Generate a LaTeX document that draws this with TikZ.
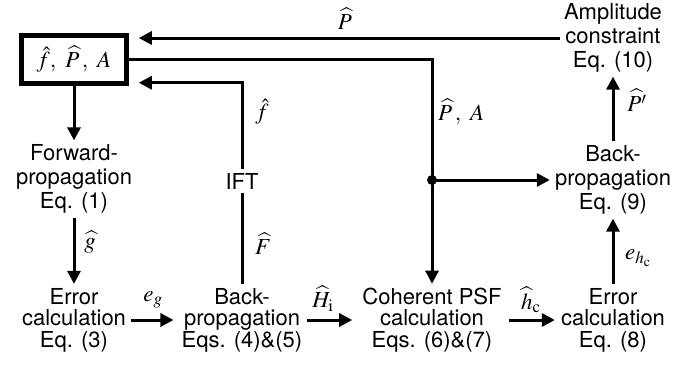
\documentclass[tikz,border=0pt]{standalone}
\usepackage{mathptmx}
\usepackage{fontspec}
\setmainfont{TeX Gyre Heros}
\usetikzlibrary{arrows.meta}

\begin{document}
\begin{tikzpicture}[x=1pt,y=-1pt,
  stage/.style={align=center,inner sep=4pt,font=\fontsize{22}{24}\selectfont},
  stagelow/.style={align=center,inner sep=4pt,font=\fontsize{22}{21.5}\selectfont},
  lab/.style={inner sep=0pt,font=\fontsize{23}{23}\selectfont},
  flow/.style={line width=3pt,-{Triangle[length=13pt,width=13pt]}},
  wire/.style={line width=3pt}]
\useasboundingbox (0,0) rectangle (693,365);

% processing stages
\node[draw,line width=4.5pt,minimum width=105pt,minimum height=48pt,inner sep=0pt,
  font=\fontsize{23}{23}\selectfont]
  (est) at (74,59.5) {$\hat f,\ \widehat{P}\,,\ A$};
\node[stage] (amp) at (613,38) {Amplitude\\constraint\\Eq. (10)};
\node[stage] (fwd) at (74,179) {Forward-\\propagation\\Eq. (1)};
\node[stage] (bp2) at (613,180) {Back-\\propagation\\Eq. (9)};
\node[stage] (ift) at (242,181) {IFT};
\node[stagelow] (err1) at (74,320) {Error\\calculation\\Eq. (3)};
\node[stagelow] (bp1) at (242,320) {Back-\\propagation\\Eqs. (4)\&(5)};
\node[stagelow] (coh) at (432,320) {Coherent PSF\\calculation\\Eqs. (6)\&(7)};
\node[stagelow] (err2) at (613,320) {Error\\calculation\\Eq. (8)};

% feedback paths to the estimate box
\draw[flow,shorten >=10pt] (amp.west) -- (amp.west -| est.east);
\draw[wire] (bp1.north) -- (ift.south);
\draw[flow,shorten >=10pt] (ift.north) |- ([yshift=3pt]est.south east);
\draw[flow] (est.east) -| (coh.north);
\coordinate (split) at (coh.north |- bp2.west);
\fill (split) circle (5pt);
\draw[flow,shorten >=1pt] (split) -- (bp2.west);

% main forward chain
\draw[flow] (est) -- (fwd);
\draw[flow] (fwd) -- (err1);
\draw[flow,shorten <=1pt,shorten >=4pt] (err1) -- (bp1);
\draw[flow,shorten >=6pt] (bp1) -- (coh);
\draw[flow,shorten <=3pt,shorten >=2pt] (coh) -- (err2);
\draw[flow] (err2) -- (bp2);
\draw[flow] (bp2) -- (amp);

% signal labels
\node[lab] (lP) at (345,19) {$\widehat{P}$};
\node[lab] (lf) at (262,112) {$\hat f$};
\node[lab,anchor=west] (lPA) at (438,112) {$\widehat{P}\,,\ A$};
\node[lab] (lg) at (90,242) {$\widehat{g}$};
\node[lab] (lF) at (263,244) {$\widehat{F}$};
\node[lab] (leg) at (153,300) {$e_g$};
\node[lab] (lH) at (323,299) {$\widehat{H}_{\mathrm{i}}$};
\node[lab] (lh) at (531,300) {$\widehat{h}_{\mathrm{c}}$};
\node[lab] (leh) at (638,258) {$e_{h_{\mathrm{c}}}$};
\node[lab] (lPp) at (637,100) {$\widehat{P'}$};
\end{tikzpicture}
\end{document}
